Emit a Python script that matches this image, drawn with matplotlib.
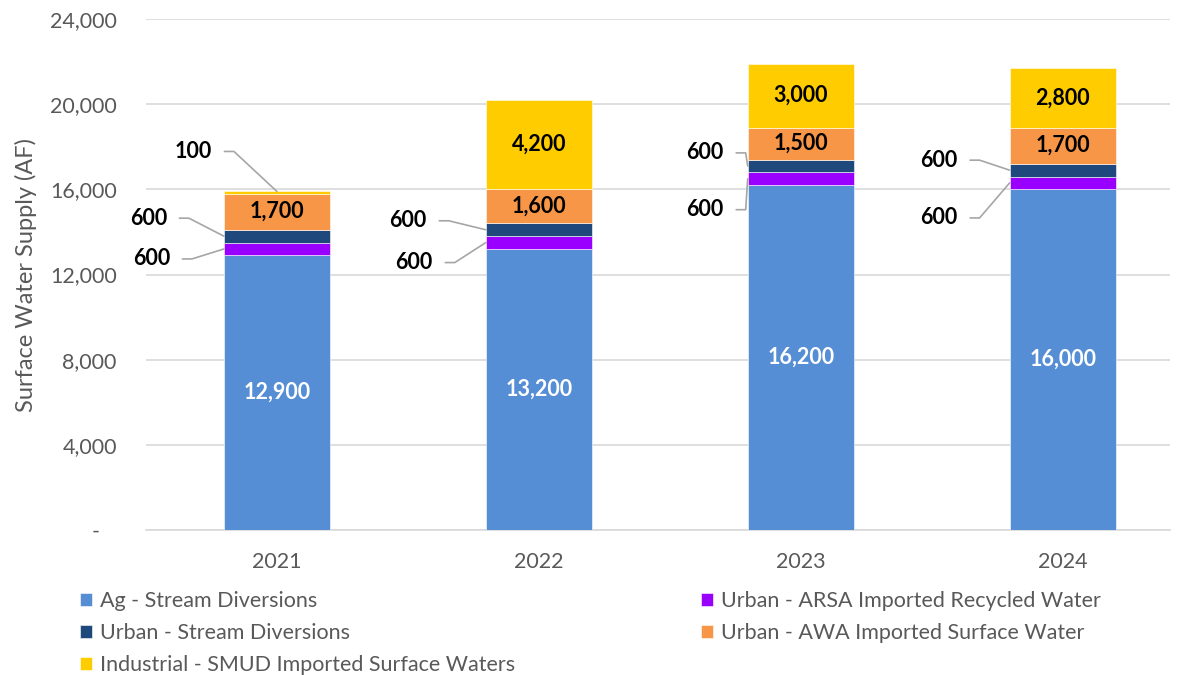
import matplotlib.pyplot as plt
from matplotlib.ticker import FuncFormatter, MultipleLocator

plt.rcParams['font.family'] = ['Lato', 'DejaVu Sans']

years = ["2021", "2022", "2023", "2024"]
ag_stream = [12900, 13200, 16200, 16000]
urban_arsa = [600, 600, 600, 600]
urban_stream = [600, 600, 600, 600]
urban_awa = [1700, 1600, 1500, 1700]
industrial_smud = [100, 4200, 3000, 2800]

series_names = [
    "Ag - Stream Diversions",
    "Urban - ARSA Imported Recycled Water",
    "Urban - Stream Diversions",
    "Urban - AWA Imported Surface Water",
    "Industrial - SMUD Imported Surface Waters",
]
series_values = [ag_stream, urban_arsa, urban_stream, urban_awa, industrial_smud]
colors = ["#558ED5", "#9900FF", "#1F497D", "#F79646", "#FFCC00"]
label_colors = ["white", "black", "black", "black", "black"]

# labels drawn outside the bar with a leader line: (series, year) -> text offset in pixels
callouts = {
    (4, 0): (-65, 40),
    (2, 0): (-57, 18),
    (1, 0): (-54, -10),
    (2, 1): (-59, 9),
    (1, 1): (-53, -20),
    (2, 2): (-24, 13),
    (1, 2): (-24, -31),
    (2, 3): (-52, 10),
    (1, 3): (-52, -35),
}

grey = "#595959"
grid_grey = "#D9D9D9"
width = 0.405

fig = plt.figure(figsize=(11.84, 6.75), dpi=100)
ax = fig.add_axes([146 / 1184, 1 - 530 / 675, 1024 / 1184, 511 / 675])

x = list(range(len(years)))
bottoms = [0] * len(years)
bars = []
for s, (name, vals, col) in enumerate(zip(series_names, series_values, colors)):
    b = ax.bar(x, vals, width, bottom=bottoms, color=col, label=name,
               edgecolor="white", linewidth=0.4, zorder=3)
    bars.append(b)
    for i, v in enumerate(vals):
        mid = bottoms[i] + v / 2
        if (s, i) in callouts:
            dx, dy = callouts[(s, i)]
            if s == 4:
                anchor = (x[i], bottoms[i] + v)
            else:
                anchor = (x[i] - width / 2, mid)
            ax.annotate(f"{v:,}", xy=anchor, xytext=(dx, dy),
                        textcoords="offset pixels", ha="right", va="center",
                        fontsize=15.5, fontweight="bold", color="black",
                        arrowprops=dict(arrowstyle="-", color="#A6A6A6", lw=1.2,
                                        relpos=(1, 0.5), shrinkA=7, shrinkB=0,
                                        connectionstyle="arc,angleA=0,armA=22,angleB=0,armB=0,rad=0"))
        elif s in (0, 3, 4):
            ax.text(x[i], mid, f"{v:,}", ha="center", va="center",
                    fontsize=15.5, fontweight="bold", color=label_colors[s], zorder=4)
    bottoms = [b0 + v for b0, v in zip(bottoms, vals)]

ax.set_xlim(-0.5, 3.41)
ax.set_ylim(0, 24000)
ax.yaxis.set_major_locator(MultipleLocator(4000))
ax.yaxis.set_major_formatter(FuncFormatter(lambda v, _: "-   " if v == 0 else f"{v:,.0f}"))
ax.set_xticks(x)
ax.set_xticklabels(years)
ax.tick_params(axis="both", length=0, labelsize=15.5, labelcolor=grey)
ax.tick_params(axis="y", pad=21)
ax.tick_params(axis="x", pad=16)

ax.grid(axis="y", color=grid_grey, lw=1.2, zorder=0)
for side in ["top", "right", "left"]:
    ax.spines[side].set_visible(False)
ax.spines["bottom"].set_color(grid_grey)
ax.spines["bottom"].set_linewidth(1.2)

ax.set_ylabel("Surface Water Supply (AF)", fontsize=17, color=grey)
ax.yaxis.set_label_coords(-0.106, 0.5)

order = [0, 2, 4, 1, 3]
fig.legend([bars[k] for k in order], [series_names[k] for k in order],
           loc="upper left", bbox_to_anchor=(80 / 1184, 1 - 591 / 675),
           ncol=2, frameon=False, fontsize=15.5, labelcolor=grey,
           handlelength=0.55, handleheight=0.55, handletextpad=0.4,
           columnspacing=8.6, labelspacing=0.55, borderpad=0, borderaxespad=0)

fig.savefig("out.png", dpi=100)
